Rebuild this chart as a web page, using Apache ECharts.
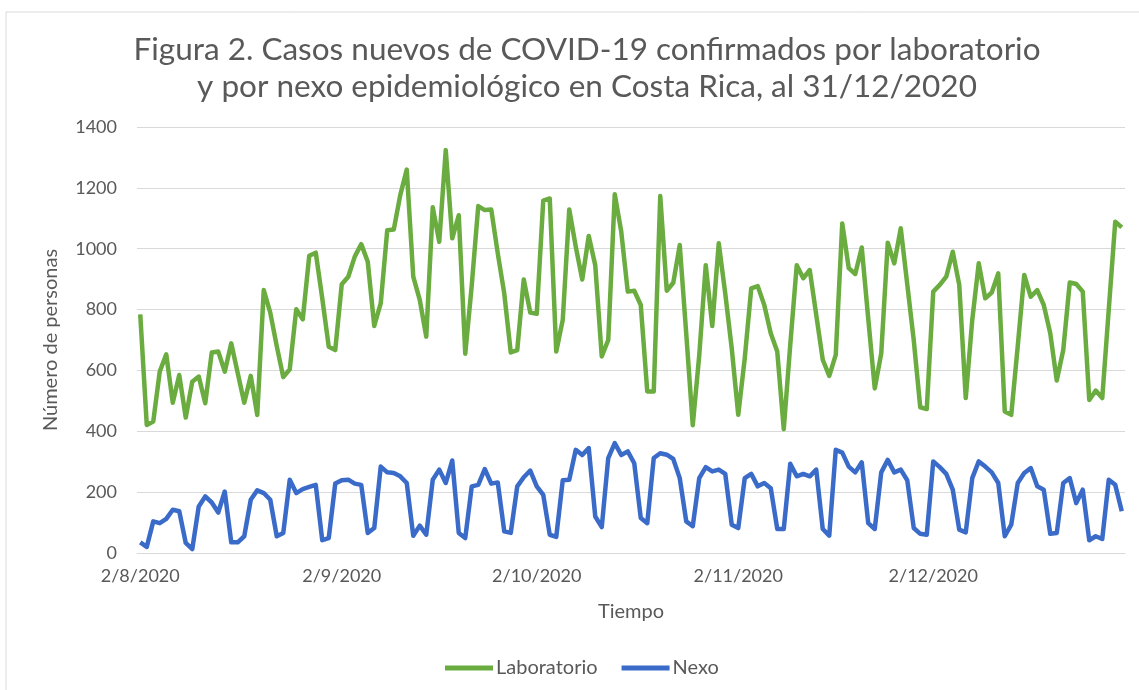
<!DOCTYPE html>
<html>
<head>
<meta charset="utf-8">
<script src="https://cdn.jsdelivr.net/npm/echarts@6/dist/echarts.min.js"></script>
<style>
  html, body { margin: 0; padding: 0; background: #fff; }
  #main { width: 1139px; height: 690px; }
</style>
</head>
<body>
<div id="main"></div>
<script>
// casos diarios desde el 2/8/2020 hasta el 31/12/2020
var startDay = [2020, 7, 2];
var numDays = 152;

var laboratorio = [
  784, 421, 432, 596, 653, 494, 585, 445, 563, 580, 492, 659, 662, 596, 689, 591, 494, 582, 454, 864,
  790, 680, 578, 604, 801, 768, 977, 987, 837, 678, 667, 883, 908, 974, 1015, 957, 746, 821, 1061, 1063,
  1176, 1260, 908, 832, 711, 1136, 1023, 1324, 1034, 1110, 655, 880, 1140, 1127, 1129, 985, 853, 659, 667, 899,
  790, 786, 1158, 1165, 662, 766, 1129, 1007, 899, 1042, 946, 646, 700, 1179, 1056, 859, 862, 815, 531, 531,
  1173, 862, 888, 1012, 720, 420, 650, 946, 746, 1018, 853, 672, 454, 640, 870, 877, 815, 722, 662, 407,
  684, 946, 903, 930, 782, 635, 582, 651, 1083, 936, 917, 1004, 770, 541, 656, 1020, 952, 1067, 883, 699,
  479, 473, 859, 881, 908, 990, 881, 509, 766, 952, 837, 856, 919, 465, 454, 680, 914, 842, 864, 815,
  722, 567, 667, 889, 884, 859, 503, 534, 509, 800, 1089, 1070
];

var nexo = [
  35, 20, 104, 98, 112, 142, 137, 33, 13, 153, 186, 166, 133, 202, 35, 35, 55, 175, 206, 197,
  175, 55, 66, 241, 197, 210, 217, 224, 42, 49, 228, 239, 241, 228, 224, 66, 82, 284, 265, 263,
  252, 230, 57, 90, 60, 241, 274, 230, 304, 66, 49, 219, 224, 276, 228, 232, 71, 66, 219, 249,
  271, 219, 191, 60, 53, 239, 241, 339, 322, 345, 120, 85, 312, 361, 322, 334, 295, 115, 98, 312,
  328, 323, 309, 246, 104, 88, 246, 282, 268, 274, 260, 93, 82, 246, 260, 219, 230, 213, 79, 79,
  293, 252, 260, 252, 274, 79, 57, 339, 330, 284, 265, 298, 98, 79, 265, 306, 265, 274, 239, 82,
  63, 60, 301, 282, 260, 208, 77, 68, 246, 301, 284, 265, 230, 55, 93, 230, 263, 279, 219, 208,
  63, 66, 230, 246, 164, 208, 42, 55, 46, 241, 224, 137
];

var tickLabels = ['2/8/2020', '2/9/2020', '2/10/2020', '2/11/2020', '2/12/2020'];

var fechas = [];
for (var i = 0; i < numDays; i++) {
  var d = new Date(startDay[0], startDay[1], startDay[2] + i);
  fechas.push(d.getDate() + '/' + (d.getMonth() + 1) + '/' + d.getFullYear());
}

var gris = '#595959';
var chartDom = document.getElementById('main');
var myChart = echarts.init(chartDom);
var option;

option = {
  animation: false,
  textStyle: { fontFamily: 'Lato' },
  title: {
    text: 'Figura 2. Casos nuevos de COVID-19 confirmados por laboratorio\ny por nexo epidemiológico en Costa Rica, al 31/12/2020',
    left: 582,
    top: 26,
    textAlign: 'center',
    textStyle: {
      fontFamily: 'Lato',
      fontSize: 31.5,
      fontWeight: 'normal',
      color: gris,
      lineHeight: 37
    }
  },
  graphic: [{
    type: 'rect',
    shape: { x: 6, y: 12, width: 1150, height: 700 },
    style: { fill: 'none', stroke: '#d9d9d9', lineWidth: 1 },
    silent: true
  }],
  legend: {
    left: 440,
    top: 653,
    icon: 'rect',
    itemWidth: 48,
    itemHeight: 5,
    itemGap: 24,
    textStyle: { fontFamily: 'Lato', fontSize: 20, color: gris, padding: [0, 0, 0, -2] },
    data: ['Laboratorio', 'Nexo']
  },
  grid: {
    left: 137,
    right: 14,
    top: 127,
    bottom: 137
  },
  xAxis: {
    type: 'category',
    boundaryGap: true,
    data: fechas,
    name: 'Tiempo',
    nameLocation: 'middle',
    nameGap: 49,
    nameTextStyle: { fontFamily: 'Lato', fontSize: 20, color: gris },
    axisLine: { lineStyle: { color: '#d9d9d9', width: 1 } },
    axisTick: {
      length: 6,
      lineStyle: { color: '#d9d9d9' },
      interval: function (idx, val) { return tickLabels.indexOf(val) >= 0; }
    },
    axisLabel: {
      color: gris,
      fontSize: 18,
      margin: 14,
      interval: function (idx, val) { return tickLabels.indexOf(val) >= 0; }
    }
  },
  yAxis: {
    type: 'value',
    min: 0,
    max: 1400,
    interval: 200,
    name: 'Número de personas',
    nameLocation: 'middle',
    nameGap: 76,
    nameTextStyle: { fontFamily: 'Lato', fontSize: 20, color: gris },
    axisLabel: {
      color: gris,
      fontSize: 18,
      margin: 20,
      formatter: function (v) { return String(v); }
    },
    splitLine: { lineStyle: { color: '#d9d9d9', width: 1 } }
  },
  series: [
    {
      name: 'Laboratorio',
      type: 'line',
      data: laboratorio,
      showSymbol: false,
      color: '#6aac3f',
      lineStyle: { width: 4.5, color: '#6aac3f', join: 'round' }
    },
    {
      name: 'Nexo',
      type: 'line',
      data: nexo,
      showSymbol: false,
      color: '#3a6bc9',
      lineStyle: { width: 4.5, color: '#3a6bc9', join: 'round' }
    }
  ]
};

option && myChart.setOption(option);
</script>
</body>
</html>
